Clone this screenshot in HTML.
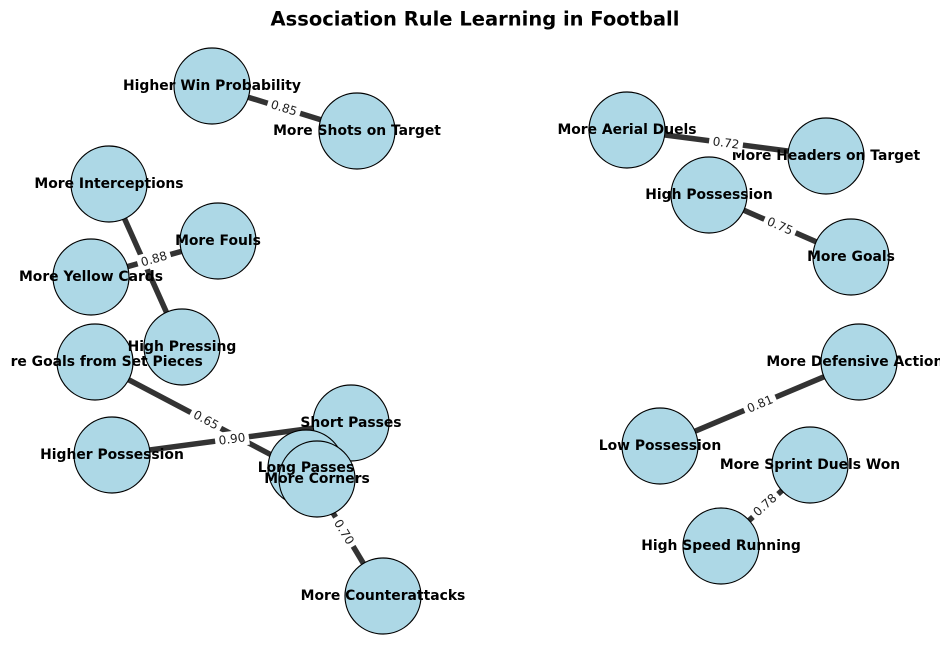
<!DOCTYPE html>
<html><head><meta charset="utf-8"><style>
html,body{margin:0;padding:0;background:#fff;}
svg{display:block;}
.n{fill:#add8e6;stroke:#000;stroke-width:1.2;}
.t{font-family:"DejaVu Sans","Liberation Sans",sans-serif;font-weight:bold;font-size:13.9px;text-anchor:middle;dominant-baseline:central;}
.e{stroke:#333;stroke-width:5.5;}
.l{font-family:"DejaVu Sans","Liberation Sans",sans-serif;font-size:12px;text-anchor:middle;dominant-baseline:central;fill:#222;}
</style></head><body>
<svg width="950" height="659" viewBox="0 0 950 659" xmlns="http://www.w3.org/2000/svg">
<defs><clipPath id="c"><rect x="10" y="30" width="930" height="629"/></clipPath></defs>
<text x="475" y="19" text-anchor="middle" dominant-baseline="central" style="font-family:'DejaVu Sans','Liberation Sans',sans-serif;font-weight:bold;font-size:19.5px">Association Rule Learning in Football</text>
<g clip-path="url(#c)">
<line class="e" x1="212" y1="86" x2="357" y2="131"/>
<line class="e" x1="109" y1="184" x2="182" y2="347"/>
<line class="e" x1="91" y1="277" x2="218" y2="241"/>
<line class="e" x1="95" y1="362" x2="317" y2="479"/>
<line class="e" x1="112" y1="455" x2="351" y2="423"/>
<line class="e" x1="306" y1="468" x2="383" y2="596"/>
<line class="e" x1="627" y1="130" x2="826" y2="156"/>
<line class="e" x1="709" y1="195" x2="851" y2="257"/>
<line class="e" x1="660" y1="446" x2="859" y2="362"/>
<line class="e" x1="721" y1="546" x2="810" y2="465"/>
<g>
<circle class="n" cx="212" cy="86" r="38"/>
<circle class="n" cx="357" cy="131" r="38"/>
<circle class="n" cx="109" cy="184" r="38"/>
<circle class="n" cx="218" cy="241" r="38"/>
<circle class="n" cx="91" cy="277" r="38"/>
<circle class="n" cx="182" cy="347" r="38"/>
<circle class="n" cx="95" cy="362" r="38"/>
<circle class="n" cx="112" cy="455" r="38"/>
<circle class="n" cx="351" cy="423" r="38"/>
<circle class="n" cx="306" cy="468" r="38"/>
<circle class="n" cx="317" cy="479" r="38"/>
<circle class="n" cx="383" cy="596" r="38"/>
<circle class="n" cx="627" cy="130" r="38"/>
<circle class="n" cx="826" cy="156" r="38"/>
<circle class="n" cx="709" cy="195" r="38"/>
<circle class="n" cx="851" cy="257" r="38"/>
<circle class="n" cx="859" cy="362" r="38"/>
<circle class="n" cx="660" cy="446" r="38"/>
<circle class="n" cx="810" cy="465" r="38"/>
<circle class="n" cx="721" cy="546" r="38"/>
</g>
<text class="t" x="212" y="86">Higher Win Probability</text>
<text class="t" x="357" y="131">More Shots on Target</text>
<text class="t" x="109" y="184">More Interceptions</text>
<text class="t" x="218" y="241">More Fouls</text>
<text class="t" x="91" y="277">More Yellow Cards</text>
<text class="t" x="182" y="347">High Pressing</text>
<text class="t" x="95" y="362">More Goals from Set Pieces</text>
<text class="t" x="112" y="455">Higher Possession</text>
<text class="t" x="351" y="423">Short Passes</text>
<text class="t" x="306" y="468">Long Passes</text>
<text class="t" x="317" y="479">More Corners</text>
<text class="t" x="383" y="596">More Counterattacks</text>
<text class="t" x="627" y="130">More Aerial Duels</text>
<text class="t" x="826" y="156">More Headers on Target</text>
<text class="t" x="709" y="195">High Possession</text>
<text class="t" x="851" y="257">More Goals</text>
<text class="t" x="859" y="362">More Defensive Actions</text>
<text class="t" x="660" y="446">Low Possession</text>
<text class="t" x="810" y="465">More Sprint Duels Won</text>
<text class="t" x="721" y="546">High Speed Running</text>
</g>
<g>
<g transform="translate(284,108) rotate(17)"><rect x="-17" y="-8" width="34" height="16" fill="#fff"/><text class="l">0.85</text></g>
<g transform="translate(154,259) rotate(-16)"><rect x="-17" y="-8" width="34" height="16" fill="#fff"/><text class="l">0.88</text></g>
<g transform="translate(206,420) rotate(28)"><rect x="-17" y="-8" width="34" height="16" fill="#fff"/><text class="l">0.65</text></g>
<g transform="translate(232,439) rotate(-7.6)"><rect x="-17" y="-8" width="34" height="16" fill="#fff"/><text class="l">0.90</text></g>
<g transform="translate(344,532) rotate(58.6)"><rect x="-17" y="-8" width="34" height="16" fill="#fff"/><text class="l">0.70</text></g>
<g transform="translate(726,143) rotate(7.4)"><rect x="-17" y="-8" width="34" height="16" fill="#fff"/><text class="l">0.72</text></g>
<g transform="translate(780,226) rotate(23.6)"><rect x="-17" y="-8" width="34" height="16" fill="#fff"/><text class="l">0.75</text></g>
<g transform="translate(760,404) rotate(-23)"><rect x="-17" y="-8" width="34" height="16" fill="#fff"/><text class="l">0.81</text></g>
<g transform="translate(765,505) rotate(-42)"><rect x="-17" y="-8" width="34" height="16" fill="#fff"/><text class="l">0.78</text></g>
</g>
</svg>
</body></html>
